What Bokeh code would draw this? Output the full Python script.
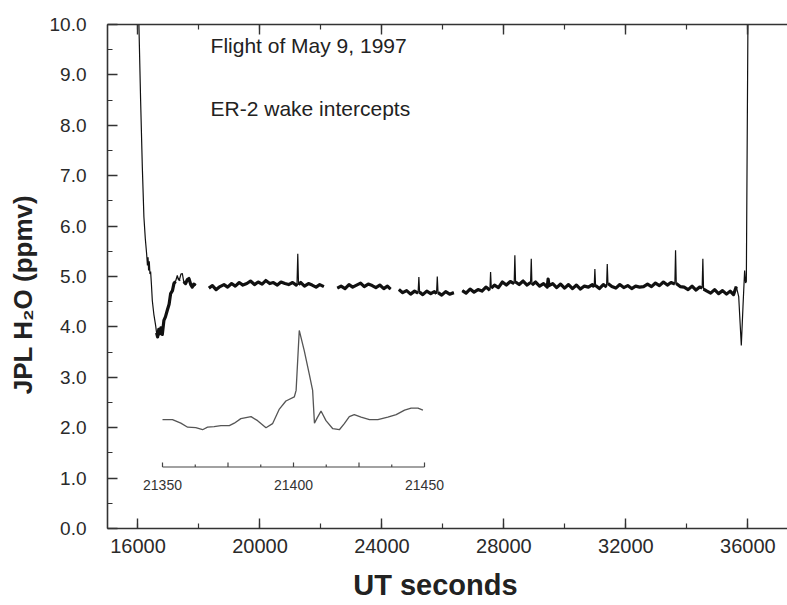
import math
from bokeh.plotting import figure
from bokeh.models import (Range1d, LinearAxis, SingleIntervalTicker, PrintfTickFormatter, Label,
                          CustomJSTickFormatter)
from bokeh.core.properties import value
from bokeh.embed import file_html
from bokeh.resources import INLINE

NAN = float("nan")

# ---------------- main time series (UT seconds, ppmv) ----------------
lead_t = [15990, 16030, 16086, 16142, 16194, 16240, 16283, 16310, 16330, 16348, 16370, 16392, 16414,
          16440, 16470, 16520, 16578, 16610, 16643, 16680, 16709, 16750, 16797, 16850, 16900, 16961,
          17020, 17070, 17130, 17178, 17230, 17289, 17330, 17365, 17410, 17453, 17500, 17561, 17620,
          17670, 17730, 17781, 17830, 17889, 18040]
lead_v = [11.5, 10.0, 8.49, 7.17, 6.18, 5.75, 5.45, 5.22, 5.38, 5.12, 5.30, 5.05, 5.10,
          4.85, 4.52, 4.25, 4.03, 3.88, 3.80, 3.95, 3.86, 3.98, 3.85, 4.13, 4.20, 4.33,
          4.45, 4.66, 4.72, 4.86, 4.90, 5.02, 4.93, 4.95, 5.05, 5.06, 4.90, 4.86, 4.94,
          4.96, 4.84, 4.79, 4.85, 4.82, NAN]

seg1_t = [18325, 18440, 18560, 18690, 18820, 18940, 19070, 19190, 19320, 19440, 19570, 19690,
          19820, 19940, 20070, 20190, 20320, 20440, 20570, 20690, 20820, 20940, 21070, 21190,
          21215, 21240, 21265, 21340, 21460, 21590, 21710, 21840, 21960, 22096, 22290]
seg1_v = [4.77, 4.82, 4.74, 4.80, 4.84, 4.79, 4.86, 4.81, 4.88, 4.83, 4.86, 4.91,
          4.84, 4.89, 4.85, 4.92, 4.86, 4.88, 4.83, 4.89, 4.86, 4.84, 4.88, 4.83,
          4.86, 5.45, 4.84, 4.88, 4.81, 4.86, 4.83, 4.79, 4.84, 4.80, NAN]

seg2_t = [22536, 22660, 22790, 22920, 23040, 23170, 23300, 23420, 23550, 23680, 23800, 23930,
          24060, 24180, 24283, 24420]
seg2_v = [4.77, 4.81, 4.76, 4.84, 4.79, 4.83, 4.87, 4.80, 4.85, 4.82, 4.78, 4.83,
          4.76, 4.81, 4.75, NAN]

seg3_t = [24556, 24680, 24810, 24940, 25070, 25185, 25211, 25235, 25340, 25470, 25600, 25720,
          25790, 25815, 25840, 25960, 26090, 26220, 26359, 26490]
seg3_v = [4.74, 4.68, 4.72, 4.65, 4.71, 4.67, 4.99, 4.69, 4.64, 4.71, 4.66, 4.70,
          4.66, 5.00, 4.68, 4.63, 4.70, 4.65, 4.68, NAN]

seg4_t = [26635, 26760, 26890, 27020, 27150, 27280, 27410, 27540, 27563, 27586, 27690, 27820,
          27950, 28080, 28210, 28336, 28359, 28382, 28500, 28630, 28760, 28874, 28897, 28920,
          29040, 29170, 29300, 29421, 29450, 29480, 29600, 29730, 29860, 29990, 30120, 30250,
          30380, 30510, 30640, 30770, 30900, 30960, 30983, 31006, 31130, 31260, 31366, 31389,
          31412, 31540, 31670, 31800, 31930, 32060, 32190, 32320, 32450, 32580, 32710, 32840,
          32970, 33100, 33230, 33360, 33480, 33606, 33629, 33652, 33780, 33910, 34040, 34170,
          34300, 34420, 34501, 34524, 34547, 34660, 34780, 34910, 35040, 35170, 35300, 35420,
          35530, 35621, 35700, 35785, 35840, 35894, 35925, 35950, 36002, 36030]
seg4_v = [4.72, 4.67, 4.75, 4.69, 4.74, 4.71, 4.79, 4.73, 5.09, 4.77, 4.83, 4.78,
          4.89, 4.83, 4.90, 4.86, 5.42, 4.89, 4.84, 4.91, 4.83, 4.88, 5.35, 4.83,
          4.89, 4.81, 4.86, 4.79, 4.95, 4.82, 4.86, 4.78, 4.85, 4.77, 4.84, 4.76,
          4.83, 4.75, 4.81, 4.79, 4.84, 4.79, 5.15, 4.82, 4.76, 4.84, 4.79, 5.25,
          4.86, 4.80, 4.77, 4.84, 4.78, 4.82, 4.76, 4.81, 4.79, 4.80, 4.85, 4.80,
          4.87, 4.82, 4.89, 4.83, 4.88, 4.85, 5.52, 4.86, 4.80, 4.79, 4.74, 4.81,
          4.73, 4.79, 4.77, 5.35, 4.75, 4.71, 4.67, 4.74, 4.66, 4.72, 4.65, 4.71,
          4.64, 4.80, 4.60, 3.63, 4.40, 5.12, 4.87, 4.90, 10.0, 11.5]

# ---------------- inset: zoom on one wake intercept ----------------
inset_t = [21350, 21353.8, 21357, 21359.6, 21362.7, 21365.3, 21367.2, 21369.7, 21372.3, 21375.5,
           21377.4, 21379.9, 21383.8, 21386.3, 21389.5, 21392, 21394.6, 21397.1, 21400.3, 21401,
           21402.2, 21404.1, 21406, 21407.3, 21408, 21409.2, 21410.5, 21412.4, 21415, 21417.5,
           21419.4, 21421.3, 21423.2, 21425.8, 21429, 21432.2, 21436, 21439.2, 21442.4, 21444.9,
           21447.5, 21449.4]
inset_v = [2.16, 2.16, 2.09, 2.01, 2.00, 1.96, 2.01, 2.02, 2.04, 2.04,
           2.09, 2.18, 2.22, 2.14, 2.00, 2.08, 2.37, 2.53, 2.61, 2.74,
           3.93, 3.53, 3.07, 2.74, 2.09, 2.21, 2.33, 2.14, 1.98, 1.96,
           2.08, 2.22, 2.26, 2.21, 2.16, 2.16, 2.21, 2.26, 2.35, 2.39,
           2.39, 2.35]
inset_major_ticks = [21350, 21375, 21400, 21425, 21450]
inset_minor_ticks = [21362.5, 21387.5, 21412.5, 21437.5]
inset_tick_labels = ["21350", "21400", "21450"]

# ---------------- text ----------------
note_lines = ["Flight of May 9, 1997", "ER-2 wake intercepts"]
x_title = "UT seconds"
y_title = "JPL H\u2082O (ppmv)"

# ---------------- layout constants ----------------
FIG_W, FIG_H = 787, 603
BORDER_L, BORDER_R, BORDER_T, BORDER_B = 107, 0, 24, 75
FRAME_W = FIG_W - BORDER_L - BORDER_R
X0, X1 = 15000, 37300
INSET_PX_LEFT = 55          # inset axis start, px from frame left
INSET_PX_PER_UNIT = 2.62    # px per second in the inset
INSET_AXIS_Y = 1.22
INSET_LABEL_Y = 0.86
FONT = "Liberation Sans"
INK = "#111111"

t_all = lead_t + seg1_t + seg2_t + seg3_t + seg4_t
v_all = lead_v + seg1_v + seg2_v + seg3_v + seg4_v
# thicker (noisy) look for the plateau; spikes and steep edges stay thin
v_thick = [v if (16600 <= t <= 35640 and not math.isnan(v) and v <= 4.96) else NAN
           for t, v in zip(t_all, v_all)]

p = figure(width=FIG_W, height=FIG_H, output_backend="svg", toolbar_location=None,
           x_range=Range1d(X0, X1), y_range=Range1d(0, 10),
           min_border_left=BORDER_L, min_border_right=BORDER_R,
           min_border_top=BORDER_T, min_border_bottom=BORDER_B,
           x_axis_label=x_title + "\u00a0" * 3, y_axis_label=y_title + "\u00a0" * 5)
p.outline_line_color = None
p.grid.visible = False
p.background_fill_color = "white"
p.border_fill_color = "white"

inset_start = inset_major_ticks[0] - INSET_PX_LEFT / INSET_PX_PER_UNIT
p.extra_x_ranges = {"inset": Range1d(inset_start, inset_start + FRAME_W / INSET_PX_PER_UNIT)}

# main trace
p.line(t_all, v_all, line_color=INK, line_width=1.2)
p.line(t_all, v_thick, line_color=INK, line_width=3.2, line_join="round")

# inset trace with its own small axis
p.line(inset_t, inset_v, x_range_name="inset", line_color="#555555", line_width=1.3)
p.segment(x0=[inset_major_ticks[0]], y0=[INSET_AXIS_Y], x1=[inset_major_ticks[-1]], y1=[INSET_AXIS_Y],
          x_range_name="inset", line_color="#444444", line_width=1.2)
p.segment(x0=inset_major_ticks, y0=[INSET_AXIS_Y] * len(inset_major_ticks),
          x1=inset_major_ticks, y1=[INSET_AXIS_Y + 0.09] * len(inset_major_ticks),
          x_range_name="inset", line_color="#444444", line_width=1.2)
p.segment(x0=inset_minor_ticks, y0=[INSET_AXIS_Y] * len(inset_minor_ticks),
          x1=inset_minor_ticks, y1=[INSET_AXIS_Y + 0.05] * len(inset_minor_ticks),
          x_range_name="inset", line_color="#444444", line_width=1.2)
p.text(x=[float(s) for s in inset_tick_labels], y=[INSET_LABEL_Y] * len(inset_tick_labels),
       text=inset_tick_labels, x_range_name="inset", text_font=value(FONT),
       text_font_size="14px", text_align="center", text_baseline="middle", text_color="#333333")

# annotation
p.add_layout(Label(x=18380, y=9.58, text=note_lines[0], text_font=FONT, text_font_size="21px",
                   text_baseline="middle", text_color="#222222"))
p.add_layout(Label(x=18380, y=8.33, text=note_lines[1], text_font=FONT, text_font_size="21px",
                   text_baseline="middle", text_color="#222222"))

# axes
def style_axis(ax):
    ax.axis_line_color = "#333333"
    ax.axis_line_width = 1.6
    ax.major_tick_line_color = "#333333"
    ax.minor_tick_line_color = "#333333"
    ax.major_tick_line_width = 1.4
    ax.minor_tick_line_width = 1.2
    ax.major_tick_in = 10
    ax.major_tick_out = 0
    ax.minor_tick_in = 5
    ax.minor_tick_out = 0
    ax.major_label_text_font = FONT
    ax.major_label_text_color = "#2a2a2a"
    ax.axis_label_text_font = FONT
    ax.axis_label_text_font_style = "bold"
    ax.axis_label_text_color = "#222222"

xa = p.xaxis[0]
xa.ticker = SingleIntervalTicker(interval=4000, num_minor_ticks=2)
style_axis(xa)
xa.major_label_text_font_size = "20px"
xa.major_label_standoff = 10
xa.axis_label_text_font_size = "29px"
xa.axis_label_standoff = 13

ya = p.yaxis[0]
ya.ticker = SingleIntervalTicker(interval=1, num_minor_ticks=2)
ya.formatter = PrintfTickFormatter(format="%.1f")
style_axis(ya)
ya.major_label_text_font_size = "19px"
ya.major_label_standoff = 21
ya.axis_label_text_font_size = "26px"
ya.axis_label_standoff = 9

top = LinearAxis(ticker=SingleIntervalTicker(interval=4000, num_minor_ticks=2),
                 formatter=CustomJSTickFormatter(code="return ''"))
style_axis(top)
top.major_label_text_font_size = "10px"
top.major_label_standoff = 0
p.add_layout(top, "above")

open("out.html", "w").write(file_html(p, INLINE, title="JPL H2O"))
